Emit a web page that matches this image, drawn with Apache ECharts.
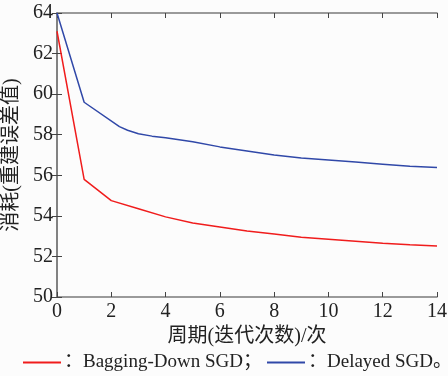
<!DOCTYPE html>
<html>
<head>
<meta charset="utf-8">
<script src="https://cdn.jsdelivr.net/npm/echarts@6/dist/echarts.min.js"></script>
<style>
    html, body { margin: 0; padding: 0; background: #fcfcfc; }
    #chart { width: 448px; height: 376px; }
</style>
</head>
<body>
<div id="chart"></div>
<script>
// 周期 (epoch) and loss values
const baggingEpochs = [0, 1, 2, 3, 4, 5, 6, 7, 8, 9, 10, 11, 12, 13, 14];
const baggingLoss = [63.1, 55.8, 54.75, 54.35, 53.95, 53.65, 53.45, 53.25, 53.1, 52.95, 52.85, 52.75, 52.65, 52.58, 52.52];
const delayedEpochs = [0, 1, 2.3, 2.6, 3, 3.5, 4, 5, 6, 7, 8, 9, 10, 11, 12, 13, 14];
const delayedLoss = [64, 59.6, 58.4, 58.22, 58.05, 57.93, 57.85, 57.65, 57.4, 57.2, 57.0, 56.85, 56.75, 56.65, 56.55, 56.45, 56.38];

const serif = "'Liberation Serif', 'Noto Sans CJK SC', serif";
const axisGray = "#7a7a7a";
const textColor = "#222";

const zip = (xs, ys) => xs.map((x, i) => [x, ys[i]]);

const tickInside = { show: true, inside: true, length: 5, lineStyle: { color: "#444" } };

const legendBase = {
    top: 353,
    padding: 0,
    itemWidth: 38,
    itemHeight: 2,
    itemGap: 0,
    icon: "rect",
    textStyle: { fontFamily: serif, fontSize: 19, color: textColor, padding: [0, 0, 0, -2] },
};

const option = {
    backgroundColor: "#fcfcfc",
    animation: false,
    grid: { left: 57, top: 13, right: 11, bottom: 79, containLabel: false, outerBoundsMode: "none" },
    legend: [
        {
            ...legendBase,
            left: 23,
            data: ["Bagging-Down SGD"],
            formatter: (name) => "：" + name + "；",
        },
        {
            ...legendBase,
            left: 267,
            data: ["Delayed SGD"],
            formatter: (name) => "：" + name + "。",
        },
    ],
    xAxis: [
        {
            type: "value",
            min: 0,
            max: 14,
            interval: 2,
            name: "周期(迭代次数)/次",
            nameLocation: "middle",
            nameGap: 28,
            nameTextStyle: { fontFamily: serif, fontSize: 20, color: textColor },
            axisLine: { show: true, lineStyle: { color: axisGray, width: 1.5 } },
            axisTick: tickInside,
            axisLabel: { fontFamily: serif, fontSize: 20, color: textColor, margin: 5 },
            splitLine: { show: false },
        },
        {
            type: "value",
            position: "top",
            min: 0,
            max: 14,
            interval: 2,
            axisLine: { show: true, lineStyle: { color: axisGray, width: 1.5 } },
            axisTick: tickInside,
            axisLabel: { show: false },
            splitLine: { show: false },
        },
    ],
    yAxis: [
        {
            type: "value",
            min: 50,
            max: 64,
            interval: 2,
            name: "消耗(重建误差值)",
            nameLocation: "middle",
            nameGap: 30,
            nameRotate: 90,
            nameTextStyle: { fontFamily: serif, fontSize: 20, color: textColor },
            axisLine: { show: true, lineStyle: { color: axisGray, width: 1.5 } },
            axisTick: tickInside,
            axisLabel: { fontFamily: serif, fontSize: 20, color: textColor, margin: 4 },
            splitLine: { show: false },
        },
        {
            type: "value",
            position: "right",
            min: 50,
            max: 64,
            interval: 2,
            axisLine: { show: true, lineStyle: { color: axisGray, width: 1.5 } },
            axisTick: tickInside,
            axisLabel: { show: false },
            splitLine: { show: false },
        },
    ],
    series: [
        {
            name: "Bagging-Down SGD",
            type: "line",
            data: zip(baggingEpochs, baggingLoss),
            showSymbol: false,
            symbol: "none",
            lineStyle: { color: "#f01c1c", width: 1.5 },
            itemStyle: { color: "#f01c1c" },
        },
        {
            name: "Delayed SGD",
            type: "line",
            data: zip(delayedEpochs, delayedLoss),
            showSymbol: false,
            symbol: "none",
            lineStyle: { color: "#3048a8", width: 1.5 },
            itemStyle: { color: "#3048a8" },
        },
    ],
};

const chart = echarts.init(document.getElementById("chart"));
chart.setOption(option);
</script>
</body>
</html>
